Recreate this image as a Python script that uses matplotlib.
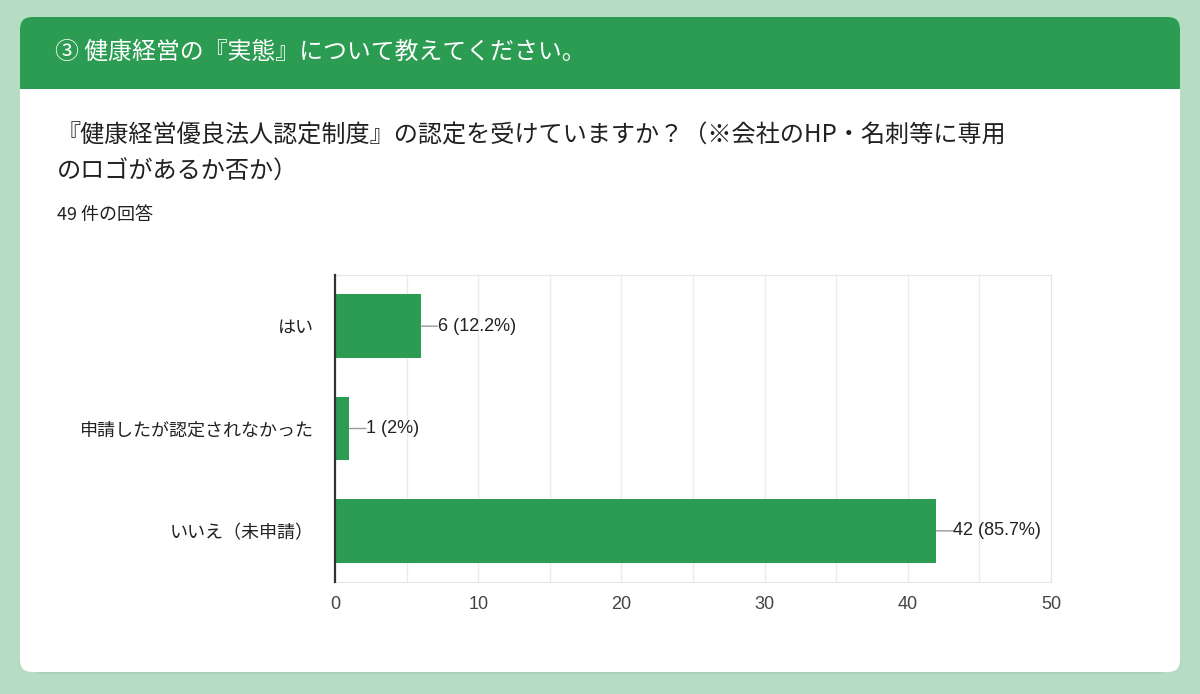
import matplotlib
matplotlib.use("Agg")
import matplotlib.pyplot as plt
from matplotlib.patches import FancyBboxPatch, Rectangle

plt.rcParams['font.family'] = ['Noto Sans CJK JP', 'DejaVu Sans']

# data
section_title = "③ 健康経営の『実態』について教えてください。"
question_lines = ["『健康経営優良法人認定制度』の認定を受けていますか？（※会社のHP・名刺等に専用",
                  "のロゴがあるか否か）"]
response_note = "49 件の回答"
categories = ["はい", "申請したが認定されなかった", "いいえ（未申請）"]
counts = [6, 1, 42]
percents = ["12.2%", "2%", "85.7%"]
x_ticks = [0, 10, 20, 30, 40, 50]

green = '#2b9c52'
bg_green = '#b6dcc4'

W, H = 1200, 694
fig = plt.figure(figsize=(W / 100, H / 100), dpi=100)
fig.patch.set_facecolor(bg_green)

# background layer in pixel coords
bg = fig.add_axes([0, 0, 1, 1])
bg.set_xlim(0, W)
bg.set_ylim(H, 0)
bg.axis('off')

# card shadow + card
bg.add_patch(FancyBboxPatch((32, 31), 1136, 643, boxstyle="round,pad=0,rounding_size=12",
                            facecolor='#a9cfb6', edgecolor='none'))
bg.add_patch(FancyBboxPatch((20, 17), 1160, 655, boxstyle="round,pad=0,rounding_size=12",
                            facecolor='white', edgecolor='none'))
# green header with rounded top corners
bg.add_patch(FancyBboxPatch((20, 17), 1160, 100, boxstyle="round,pad=0,rounding_size=12",
                            facecolor=green, edgecolor='none'))
bg.add_patch(Rectangle((20, 89), 1160, 40, facecolor='white', edgecolor='none'))

bg.text(55, 52, section_title, color='white', fontsize=17.2, va='center', ha='left')
bg.text(57, 136, question_lines[0], color='#212121', fontsize=17.4, va='center', ha='left')
bg.text(57, 172, question_lines[1], color='#212121', fontsize=17.4, va='center', ha='left')
bg.text(57, 215, response_note, color='#212121', fontsize=13, va='center', ha='left')

# bar chart
ax = fig.add_axes([335 / W, 1 - 582 / H, 716 / W, 307 / H])
ypos = list(range(len(categories)))
ax.barh(ypos, counts, height=0.62, color=green, zorder=3)
ax.set_xlim(0, 50)
ax.set_ylim(len(categories) - 0.5, -0.5)
ax.set_xticks(x_ticks)
ax.set_xticks(range(0, 51, 5), minor=True)
ax.grid(axis='x', which='both', color='#ebebeb', lw=1, zorder=0)
ax.set_yticks(ypos)
ax.set_yticklabels(categories, fontsize=13, color='#222222')
ax.set_xticklabels([str(t) for t in x_ticks], fontsize=13, color='#444444',
                   family=['Liberation Sans', 'DejaVu Sans'])
ax.tick_params(axis='both', which='both', length=0)
ax.tick_params(axis='y', pad=15)
ax.tick_params(axis='x', pad=10)
for s in ['top', 'right', 'bottom']:
    ax.spines[s].set_color('#e6e6e6')
ax.spines['left'].set_color('#333333')
ax.spines['left'].set_linewidth(1.6)
ax.spines['left'].set_zorder(4)

for i, (c, p) in enumerate(zip(counts, percents)):
    ax.annotate(f"{c} ({p})", xy=(c, i), xytext=(12, 0), textcoords='offset points',
                ha='left', va='center', fontsize=13, color='#222222',
                family=['Liberation Sans', 'DejaVu Sans'],
                arrowprops=dict(arrowstyle='-', color='#999999', lw=1, patchA=None,
                                shrinkA=0, shrinkB=0, relpos=(0, 0.5)))

fig.savefig("out.png", dpi=100, facecolor=fig.get_facecolor())
